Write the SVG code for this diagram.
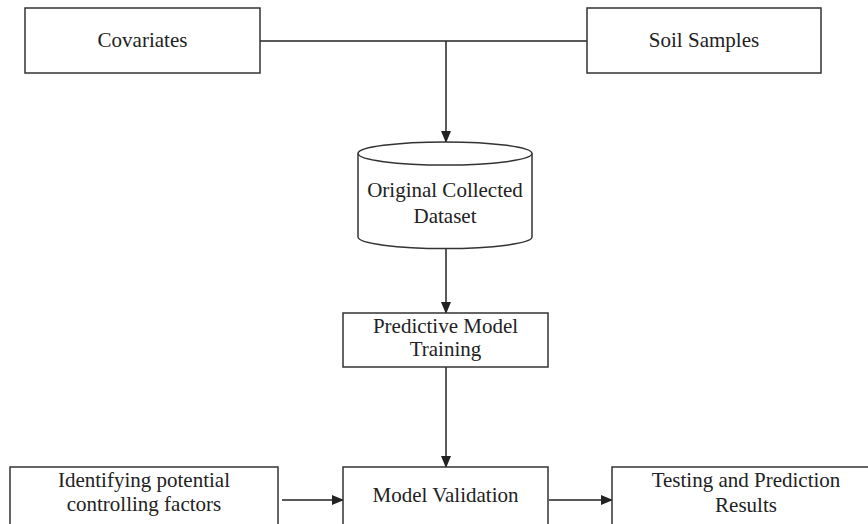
<svg xmlns="http://www.w3.org/2000/svg" width="868" height="524" viewBox="0 0 868 524">
<style>
.box{fill:#fff;stroke:#333;stroke-width:1.5}
.lbl{font-family:"Liberation Serif","Times New Roman",serif;font-size:21px;fill:#222;text-anchor:middle}
.con{fill:none;stroke:#222;stroke-width:1.5}
</style>
<defs>
<marker id="ah" markerWidth="12" markerHeight="10" refX="11" refY="5" orient="auto" markerUnits="userSpaceOnUse">
<path d="M0,0 L12,5 L0,10 Z" fill="#222"/>
</marker>
</defs>
<rect width="868" height="524" fill="#fff"/>
<g id="connectors">
<line class="con" x1="260" y1="41" x2="587" y2="41"/>
<line class="con" x1="446" y1="41" x2="446" y2="142" marker-end="url(#ah)"/>
<line class="con" x1="446" y1="246" x2="446" y2="313" marker-end="url(#ah)"/>
<line class="con" x1="446" y1="367" x2="446" y2="467" marker-end="url(#ah)"/>
<line class="con" x1="282" y1="500" x2="343" y2="500" marker-end="url(#ah)"/>
<line class="con" x1="549" y1="500" x2="612" y2="500" marker-end="url(#ah)"/>
</g>
<g id="covariates">
<rect class="box" x="25" y="8" width="235" height="65"/>
<text class="lbl" x="142.5" y="47">Covariates</text>
</g>
<g id="soil-samples">
<rect class="box" x="587" y="8" width="234" height="65"/>
<text class="lbl" x="704" y="47">Soil Samples</text>
</g>
<g id="dataset">
<path class="box" d="M358,153.5 L358,237 A87,11.5 0 0 0 532,237 L532,153.5"/>
<ellipse class="box" cx="445" cy="153.5" rx="87" ry="11.5"/>
<text class="lbl" x="445" y="197">Original Collected</text>
<text class="lbl" x="445" y="223">Dataset</text>
</g>
<g id="training">
<rect class="box" x="343" y="313" width="205" height="54"/>
<text class="lbl" x="445.5" y="333">Predictive Model</text>
<text class="lbl" x="445.5" y="356">Training</text>
</g>
<g id="identifying">
<rect class="box" x="10" y="467" width="268" height="62"/>
<text class="lbl" x="144" y="487">Identifying potential</text>
<text class="lbl" x="144" y="511">controlling factors</text>
</g>
<g id="validation">
<rect class="box" x="343" y="467" width="205" height="62"/>
<text class="lbl" x="445.5" y="502">Model Validation</text>
</g>
<g id="testing">
<rect class="box" x="612" y="467" width="270" height="62"/>
<text class="lbl" x="746" y="487">Testing and Prediction</text>
<text class="lbl" x="746" y="512">Results</text>
</g>
</svg>
